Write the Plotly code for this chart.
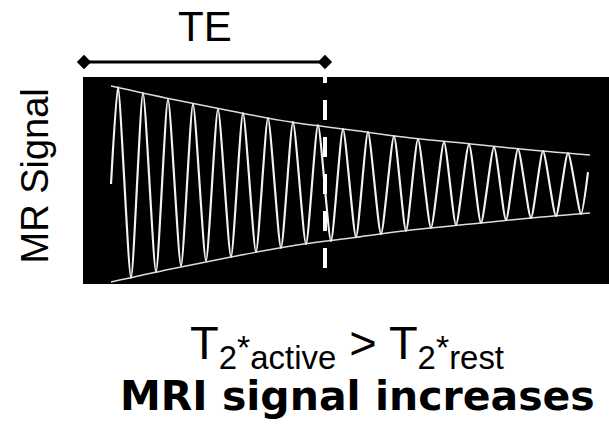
import plotly.graph_objects as go

# ---- data ----
# extrema of the decaying MR signal (time in arbitrary units, signal amplitude)
t_ext = [0, 7, 20, 32, 45, 57, 70, 82, 95, 107, 120, 132, 145, 157, 170, 182, 195,
         207, 220, 232, 245, 257, 270, 283, 295, 307, 320, 333, 345, 358, 370, 383,
         395, 407, 420, 432, 445, 457, 470, 477]
signal = [0, 97, -94, 91, -88, 85, -82, 80, -77, 75, -73, 71, -68, 66, -64, 62, -60,
          59, -57, 55, -53, 52, -50, 48, -47, 45, -44, 42, -41, 40, -39, 37,
          -36, 35, -34, 33, -32, 31, -30, 12]
# T2* decay envelope
env_t = [0, 60, 120, 180, 240, 300, 360, 420, 479]
env_amp = [98, 85, 73, 62, 54, 46, 40, 34, 29]
# echo time marker
te_start = -27
TE = 214
te_line_low = -84
x_range = [-28, 498]
y_range = [-100, 107]

FONT = "Liberation Sans, Arial, sans-serif"
BOLD_FONT = "DejaVu Sans, Liberation Sans, Arial, sans-serif"

fig = go.Figure()

# black signal panel
fig.add_shape(type="rect", xref="x domain", yref="y domain", x0=0, x1=1, y0=0, y1=1,
              fillcolor="black", line_width=0, layer="below")

fig.add_trace(go.Scatter(x=env_t, y=env_amp, mode="lines",
                         line=dict(color="#dcdcdc", width=1.5, shape="spline"),
                         hoverinfo="skip"))
fig.add_trace(go.Scatter(x=env_t, y=[-a for a in env_amp], mode="lines",
                         line=dict(color="#dcdcdc", width=1.5, shape="spline"),
                         hoverinfo="skip"))
fig.add_trace(go.Scatter(x=t_ext, y=signal, mode="lines",
                         line=dict(color="#f2f2f2", width=2.2, shape="spline", smoothing=0.6),
                         hoverinfo="skip"))
fig.add_trace(go.Scatter(x=[TE, TE], y=[te_line_low, y_range[1]], mode="lines",
                         line=dict(color="white", width=4, dash="20px,17px"),
                         hoverinfo="skip"))
# TE double-headed bar
fig.add_trace(go.Scatter(x=[te_start, TE], y=[0.5, 0.5], yaxis="y2", mode="lines+markers",
                         marker=dict(symbol="diamond", size=11, color="black"),
                         line=dict(color="black", width=3), cliponaxis=False,
                         hoverinfo="skip"))

star = '<span style="font-size:34px">*</span>'
line1 = f"T<sub>2</sub>{star}<sub>active</sub> > T<sub>2</sub>{star}<sub>rest</sub>"

fig.update_layout(
    width=609, height=426,
    margin=dict(l=83, r=0, t=0, b=0),
    paper_bgcolor="white", plot_bgcolor="rgba(0,0,0,0)",
    showlegend=False,
    xaxis=dict(range=x_range, visible=False, anchor="y"),
    yaxis=dict(range=y_range, domain=[0.3333, 0.8192], visible=False),
    yaxis2=dict(range=[0, 1], domain=[0.8216, 0.8873], visible=False, anchor="x"),
    annotations=[
        dict(text="TE", x=(te_start + TE) / 2, xref="x", y=0.9378, yref="paper",
             showarrow=False, yanchor="middle", xanchor="center",
             font=dict(family=FONT, size=42, color="black")),
        dict(text="MR Signal", x=-0.0922, xref="paper", y=0.5869, yref="paper",
             textangle=-90, showarrow=False, xanchor="center", yanchor="middle",
             font=dict(family=FONT, size=38, color="black")),
        dict(text=line1,
             x=0.501, xref="paper", y=0.1884, yref="paper", showarrow=False,
             xanchor="center", yanchor="middle",
             font=dict(family=FONT, size=47, color="black")),
        dict(text="<b>MRI signal increases</b>", x=0.5219, xref="paper", y=0.07,
             yref="paper", showarrow=False, xanchor="center", yanchor="middle",
             font=dict(family=BOLD_FONT, size=41, color="black")),
    ],
)

fig.write_html("out.html",
               config={"displayModeBar": False},
               post_script="document.body.style.margin='0';document.body.style.overflow='hidden';")
